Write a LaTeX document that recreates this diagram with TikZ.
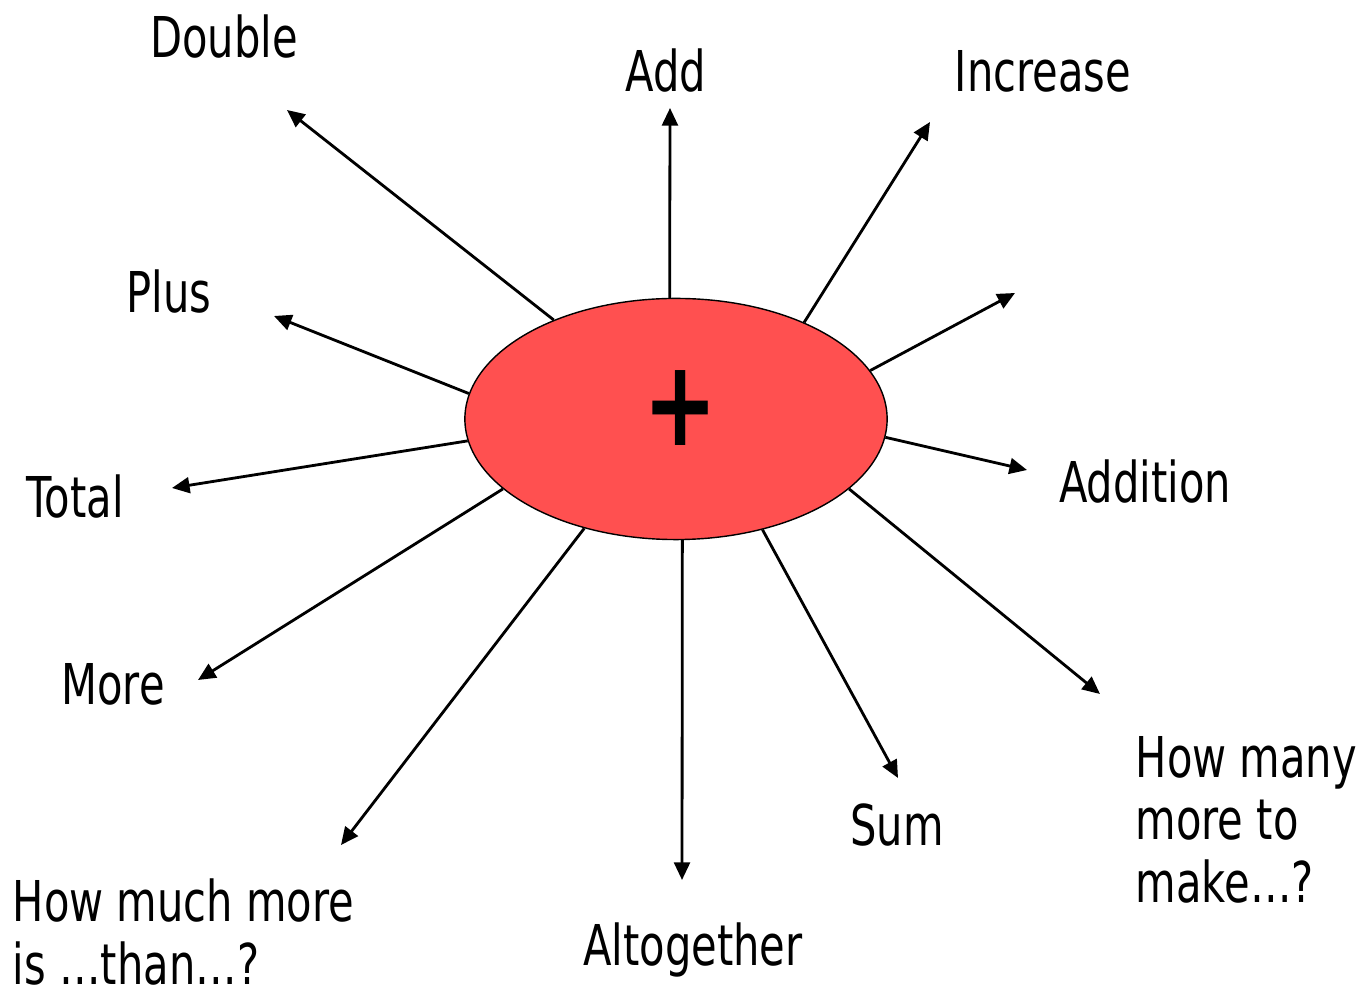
\documentclass[tikz,border=0pt]{standalone}
\usepackage{fontspec}
\setmainfont{DejaVu Sans}[FakeStretch=0.74]
\usetikzlibrary{arrows.meta,shapes.geometric}
\tikzset{
  word/.style={anchor=base,inner sep=0pt,font=\fontsize{16}{17.7}\selectfont},
  ray/.style={-{Triangle[length=5pt,width=4.5pt]},line width=0.8pt}
}
\definecolor{plusred}{RGB}{255,80,80}
\begin{document}
\begin{tikzpicture}[x=0.01cm,y=-0.01cm]
\useasboundingbox (0,0) rectangle (1370,995);
\node[ellipse,draw,fill=plusred,minimum width=4.22cm,minimum height=2.41cm,inner sep=0pt] (sign) at (676,419) {};
\node[font=\fontsize{34}{34}\selectfont\bfseries] (plussym) at (681,408) {+};
% labels
\node[word] (double) at (224,58) {Double};
\node[word] (add) at (666,92) {Add};
\node[word] (increase) at (1043,92) {Increase};
\node[word] (plus) at (169,313) {Plus};
\node[word] (total) at (75,518) {Total};
\node[word] (more) at (113,705) {More};
\node[word] (addition) at (1145,503) {Addition};
\node[word] (sum) at (897,845) {Sum};
\node[word] (altogether) at (693,965) {Altogether};
\node[word,anchor=base west,align=left] (howmuch) at (12,984) {How much more\\is \dots than\dots?};
\node[word,anchor=base west,align=left] (howmany) at (1135,902) {How many\\more to\\make\dots?};
% arrow ends
\coordinate (eDouble) at (287,110);
\coordinate (eAdd) at (670,108);
\coordinate (eIncrease) at (930,122);
\coordinate (eBlank) at (1015,293);
\coordinate (eAddition) at (1027,470);
\coordinate (eHowmany) at (1100,694);
\coordinate (eSum) at (898,778);
\coordinate (eAltogether) at (682,880);
\coordinate (eHowmuch) at (341,845);
\coordinate (eMore) at (198,680);
\coordinate (eTotal) at (172,488);
\coordinate (ePlus) at (274,316);
\draw[ray] (sign.141) -- (eDouble);
\draw[ray] (sign.93) -- (eAdd);
\draw[ray] (sign.37) -- (eIncrease);
\draw[ray] (sign.14) -- (eBlank);
\draw[ray] (sign.-5) -- (eAddition);
\draw[ray] (sign.-22) -- (eHowmany);
\draw[ray] (sign.-52) -- (eSum);
\draw[ray] (sign.-87) -- (eAltogether);
\draw[ray] (sign.230) -- (eHowmuch);
\draw[ray] (sign.202) -- (eMore);
\draw[ray] (sign.186) -- (eTotal);
\draw[ray] (sign.173) -- (ePlus);
\end{tikzpicture}
\end{document}
